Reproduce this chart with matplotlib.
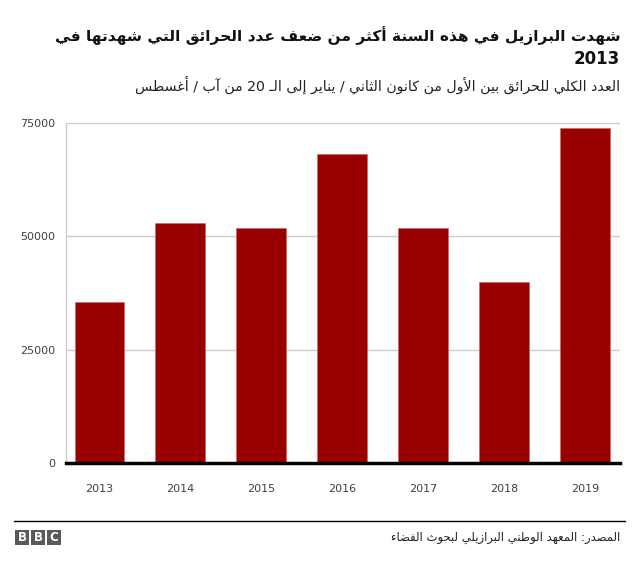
import matplotlib
matplotlib.use("Agg")
import matplotlib.pyplot as plt
from matplotlib.patches import Rectangle
from matplotlib.lines import Line2D

# ---------------- data ----------------
years = ["2013", "2014", "2015", "2016", "2017", "2018", "2019"]
fires = [35500, 52900, 51800, 68200, 51800, 40000, 74000]
yticks = [0, 25000, 50000, 75000]
ytick_labels = ["0", "25000", "50000", "75000"]

title_line1 = "شهدت البرازيل في هذه السنة أكثر من ضعف عدد الحرائق التي شهدتها في"
title_line2 = "2013"
subtitle = "العدد الكلي للحرائق بين الأول من كانون الثاني / يناير إلى الـ 20 من آب / أغسطس"
source = "المصدر: المعهد الوطني البرازيلي لبحوث الفضاء"

# ---------------- minimal Arabic shaping ----------------
_BASE = {
    '\u0621': (0xFE80, 1), '\u0622': (0xFE81, 2), '\u0623': (0xFE83, 2),
    '\u0624': (0xFE85, 2), '\u0625': (0xFE87, 2), '\u0626': (0xFE89, 4),
    '\u0627': (0xFE8D, 2), '\u0628': (0xFE8F, 4), '\u0629': (0xFE93, 2),
    '\u062A': (0xFE95, 4), '\u062B': (0xFE99, 4), '\u062C': (0xFE9D, 4),
    '\u062D': (0xFEA1, 4), '\u062E': (0xFEA5, 4), '\u062F': (0xFEA9, 2),
    '\u0630': (0xFEAB, 2), '\u0631': (0xFEAD, 2), '\u0632': (0xFEAF, 2),
    '\u0633': (0xFEB1, 4), '\u0634': (0xFEB5, 4), '\u0635': (0xFEB9, 4),
    '\u0636': (0xFEBD, 4), '\u0637': (0xFEC1, 4), '\u0638': (0xFEC5, 4),
    '\u0639': (0xFEC9, 4), '\u063A': (0xFECD, 4), '\u0641': (0xFED1, 4),
    '\u0642': (0xFED5, 4), '\u0643': (0xFED9, 4), '\u0644': (0xFEDD, 4),
    '\u0645': (0xFEE1, 4), '\u0646': (0xFEE5, 4), '\u0647': (0xFEE9, 4),
    '\u0648': (0xFEED, 2), '\u0649': (0xFEEF, 2), '\u064A': (0xFEF1, 4),
}
_LAMALEF = {'\u0622': 0xFEF5, '\u0623': 0xFEF7, '\u0625': 0xFEF9, '\u0627': 0xFEFB}
TATWEEL = '\u0640'


def shape_arabic(text):
    toks = []
    i = 0
    while i < len(text):
        c = text[i]
        if c == '\u0644' and i + 1 < len(text) and text[i + 1] in _LAMALEF:
            toks.append(('ar', (_LAMALEF[text[i + 1]], 2), None))
            i += 2
            continue
        if c in _BASE:
            toks.append(('ar', _BASE[c], c))
        elif c == TATWEEL:
            toks.append(('tat', None, c))
        else:
            toks.append(('other', None, c))
        i += 1

    def can_join_next(t):
        return (t[0] == 'ar' and t[1][1] == 4) or t[0] == 'tat'

    def can_join_prev(t):
        return (t[0] == 'ar' and t[1][1] >= 2) or t[0] == 'tat'

    out = []
    for k, t in enumerate(toks):
        if t[0] != 'ar':
            out.append(t[2])
            continue
        base, n = t[1]
        jp = k > 0 and can_join_next(toks[k - 1]) and can_join_prev(t)
        jn = k + 1 < len(toks) and n == 4 and can_join_prev(toks[k + 1])
        if n == 1:
            cp = base
        elif n == 2:
            cp = base + 1 if jp else base
        else:
            if jp and jn:
                cp = base + 3
            elif jp:
                cp = base + 1
            elif jn:
                cp = base + 2
            else:
                cp = base
        out.append(chr(cp))
    rev = out[::-1]
    res = []
    run = []
    for ch in rev:
        if ch.isdigit():
            run.append(ch)
        else:
            if run:
                res.extend(run[::-1])
                run = []
            res.append(ch)
    if run:
        res.extend(run[::-1])
    return ''.join(res)


# ---------------- figure ----------------
W, H = 640, 566
fig = plt.figure(figsize=(W / 100, H / 100), dpi=100)
fig.patch.set_facecolor("white")
renderer = fig.canvas.get_renderer()


def fx(px):
    return px / W


def fy(py):
    return 1 - py / H


def fit_width(txt, target_px):
    for _ in range(3):
        w = txt.get_window_extent(renderer=renderer).width
        txt.set_fontsize(txt.get_fontsize() * target_px / w)


ax_left, ax_right, ax_top, ax_bottom = 66, 620, 123, 463
ax = fig.add_axes([fx(ax_left), fy(ax_bottom), (ax_right - ax_left) / W, (ax_bottom - ax_top) / H])

x = list(range(len(years)))
ax.bar(x, fires, width=0.61, color="#990000", edgecolor="#c86464", linewidth=0.4, zorder=3)

ax.set_xlim(-0.41, 6.43)
ax.set_ylim(0, 75000)
ax.set_yticks(yticks)
ax.set_yticklabels(ytick_labels)
ax.set_xticks(x)
ax.set_xticklabels(years)
ax.yaxis.grid(True, color="#cccccc", linewidth=1, zorder=0)
ax.set_axisbelow(True)
for s in ["top", "right"]:
    ax.spines[s].set_visible(False)
ax.spines["left"].set_color("#cccccc")
ax.spines["left"].set_linewidth(1)
ax.spines["bottom"].set_color("black")
ax.spines["bottom"].set_linewidth(2.5)
ax.spines["bottom"].set_zorder(5)
ax.tick_params(axis="both", length=0, labelsize=8, labelcolor="#404040")
ax.tick_params(axis="x", pad=15)
ax.tick_params(axis="y", pad=8)

arfont = ["DejaVu Sans"]

t1 = fig.text(fx(621), fy(41), shape_arabic(title_line1), ha="right", va="baseline",
              fontsize=14, fontweight="bold", family=arfont, color="#111111")
fit_width(t1, 566)
fig.text(fx(620), fy(64.5), title_line2, ha="right", va="baseline",
         fontsize=12, fontweight="bold", family=["DejaVu Sans"], color="#111111")
t2 = fig.text(fx(620), fy(90), shape_arabic(subtitle), ha="right", va="baseline",
              fontsize=10, family=arfont, color="#222222")
fit_width(t2, 485)

fig.add_artist(Line2D([fx(14), fx(625)], [fy(521), fy(521)], color="black", linewidth=1))
t3 = fig.text(fx(620), fy(541), shape_arabic(source), ha="right", va="baseline",
              fontsize=8.5, family=arfont, color="#222222")
fit_width(t3, 228)

# BBC logo
bx = 15
for letter in "BBC":
    fig.add_artist(Rectangle((fx(bx), fy(545)), 14 / W, 15 / H, transform=fig.transFigure,
                             facecolor="#5a5a5a", edgecolor="none"))
    fig.text(fx(bx + 7), fy(537.5), letter, ha="center", va="center", fontsize=8.5,
             fontweight="bold", color="white", family=["DejaVu Sans"])
    bx += 16

fig.savefig("out.png", dpi=100, facecolor="white")
